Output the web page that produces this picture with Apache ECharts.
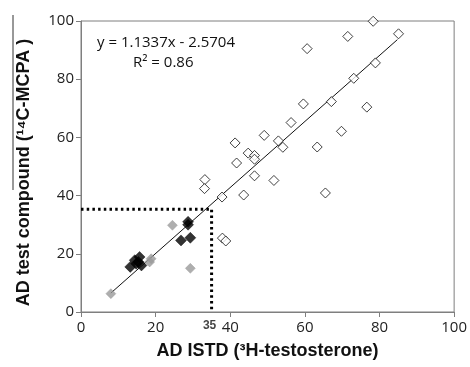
<!DOCTYPE html>
<html><head><meta charset="utf-8">
<script src="https://cdn.jsdelivr.net/npm/echarts@6/dist/echarts.min.js"></script>
<style>html,body{margin:0;padding:0;background:#fff}#c{width:470px;height:367px}</style>
</head><body><div id="c"></div>
<script>
const xTicks = [0, 20, 40, 60, 80, 100];
const yTicks = [0, 20, 40, 60, 80, 100];
const openPoints = [
  [78.3, 99.9], [85.1, 95.6], [71.5, 94.7], [60.6, 90.5], [78.9, 85.6], [73.1, 80.3],
  [67.1, 72.3], [59.6, 71.5], [76.6, 70.4], [56.3, 65.1], [69.8, 62.1], [49.1, 60.7],
  [41.3, 58.1], [52.9, 58.8], [54.1, 56.6], [63.3, 56.7], [44.8, 54.6], [46.5, 53.8],
  [46.5, 52.5], [41.7, 51.2], [46.5, 46.8], [51.7, 45.2], [33.2, 45.5], [33.1, 42.4],
  [43.6, 40.2], [37.8, 39.5], [65.5, 40.9], [37.9, 25.4], [38.8, 24.4]
];
const blackPoints = [
  [28.7, 31.0], [28.7, 30.0], [26.8, 24.6], [29.3, 25.5],
  [13.2, 15.5], [14.4, 17.8], [15.7, 18.9], [16.2, 16.0], [14.8, 16.6], [15.4, 17.2]
];
const grayPoints = [[24.5, 29.8], [18.8, 18.3], [18.4, 17.2], [29.3, 15.0], [8.0, 6.3]];
const trendLine = [[8.0, 6.5], [84.8, 93.6]];
const guideLine = [[0, 35.3], [35, 35.3], [35, 0]];
const guideLabel = [[35, 0]];
const equationText = 'y = 1.1337x - 2.5704';
const r2Text = 'R² = 0.86';

const chart = echarts.init(document.getElementById('c'));
const axisCommon = {
  min: 0, max: 100, interval: 20,
  axisLine: { show: true, lineStyle: { color: '#7f7f7f', width: 1 } },
  axisTick: { show: true, inside: false, length: 5, lineStyle: { color: '#7f7f7f' } },
  splitLine: { show: false },
  axisLabel: { color: '#222', fontSize: 15, fontFamily: 'Open Sans' },
  nameLocation: 'middle',
  nameTextStyle: { color: '#111', fontSize: 18, fontWeight: 'bold', fontFamily: 'Liberation Sans' }
};
chart.setOption({
  animation: false,
  grid: { left: 81, right: 14, top: 21, bottom: 55, show: true, borderColor: '#7f7f7f', borderWidth: 1, backgroundColor: '#fff' },
  xAxis: Object.assign({}, axisCommon, { type: 'value', name: 'AD ISTD (³H-testosterone)', nameGap: 30,
    axisLabel: Object.assign({}, axisCommon.axisLabel, { margin: 8, formatter: v => xTicks.includes(v) ? String(v) : '' }) }),
  yAxis: Object.assign({}, axisCommon, { type: 'value', name: 'AD test compound (¹⁴C-MCPA )', nameGap: 48,
    nameTextStyle: Object.assign({}, axisCommon.nameTextStyle, { padding: [0, 12, 0, 0] }),
    axisLabel: Object.assign({}, axisCommon.axisLabel, { margin: 7, formatter: v => yTicks.includes(v) ? String(v) : '' }) }),
  series: [
    { type: 'line', data: guideLine, symbol: 'none', lineStyle: { color: '#000', width: 3, type: [2.5, 3.2] }, z: 1 },
    { type: 'line', data: trendLine, symbol: 'none', lineStyle: { color: '#111', width: 1 }, z: 2 },
    { type: 'scatter', data: openPoints, symbol: 'diamond', symbolSize: 10,
      itemStyle: { color: '#fff', borderColor: '#111', borderWidth: 1 }, z: 3 },
    { type: 'scatter', data: grayPoints, symbol: 'diamond', symbolSize: 10,
      itemStyle: { color: '#9a9a9a', borderColor: '#9a9a9a', borderWidth: 0.5 }, z: 4 },
    { type: 'scatter', data: blackPoints, symbol: 'diamond', symbolSize: 11,
      itemStyle: { color: '#000', borderColor: '#000', borderWidth: 0.5 }, z: 5 },
    { type: 'scatter', data: guideLabel, symbolSize: 0, silent: true,
      label: { show: true, formatter: '35', position: 'bottom', offset: [-2, 3], color: '#111',
        fontSize: 12, fontWeight: 'bold', fontFamily: 'Liberation Sans' }, z: 6 }
  ],
  graphic: [
    { type: 'text', left: 97, top: 35, style: { text: equationText, fill: '#111', fontSize: 15, fontFamily: 'Open Sans' } },
    { type: 'text', left: 133, top: 55, style: { text: r2Text, fill: '#111', fontSize: 15, fontFamily: 'Open Sans' } },
    { type: 'line', shape: { x1: 13, y1: 15, x2: 13, y2: 190 }, style: { stroke: '#333', lineWidth: 1 } }
  ]
});
</script></body></html>
